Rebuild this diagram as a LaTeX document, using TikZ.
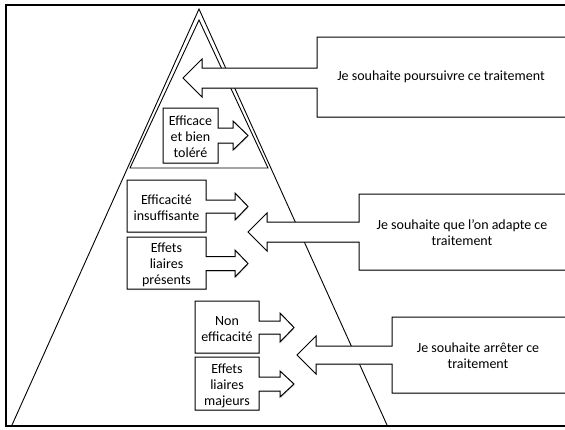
\documentclass[tikz,border=0pt]{standalone}
\usepackage{fontspec}
\setmainfont{Carlito}
\usetikzlibrary{shadows}
\begin{document}
\begin{tikzpicture}[x=1pt,y=-1pt,
  frameline/.style={line width=1.8pt},
  triline/.style={line width=0.9pt},
  callout/.style={draw=black, line width=1pt, fill=white, line join=miter,
    drop shadow={shadow xshift=0.6pt, shadow yshift=-1.2pt, opacity=0.3}},
  txt/.style={align=center, font=\fontsize{14}{16}\selectfont, inner sep=0pt}
]
\useasboundingbox (0,0) rectangle (565,429);
\clip (0,0) rectangle (565,429);

% outer frame (open on the right)
\draw[frameline] (575,5) -- (6,5) -- (6,426) -- (575,426);

% pyramid and its top section
\coordinate (apex) at (199,9);
\coordinate (bl) at (12,425);
\coordinate (br) at (387,425);
\draw[triline] (bl) -- (apex) -- (br);
\coordinate (iapex) at (199,20);
\coordinate (ibl) at (130,168);
\coordinate (ibr) at (268,168);
\draw[triline] (ibl) -- (iapex) -- (ibr) -- cycle;

% right-hand boxes with arrows pointing left
\draw[callout] (317,37) -- (575,37) -- (575,117) -- (317,117) -- (317,88) -- (202,88)
  -- (202,97) -- (183,78) -- (202,59) -- (202,68) -- (317,68) -- cycle;
\draw[callout] (359,194) -- (575,194) -- (575,270) -- (359,270) -- (359,242) -- (267,242)
  -- (267,251) -- (248,232) -- (267,213) -- (267,222) -- (359,222) -- cycle;
\draw[callout] (392,317) -- (575,317) -- (575,393) -- (392,393) -- (392,364) -- (316,364)
  -- (316,374) -- (297,355) -- (316,336) -- (316,346) -- (392,346) -- cycle;

% left-hand boxes with arrows pointing right
\draw[callout] (163,108) -- (218,108) -- (218,128) -- (233,128) -- (233,121) -- (248,135.5)
  -- (233,150) -- (233,143) -- (218,143) -- (218,163) -- (163,163) -- cycle;
\draw[callout] (127,180) -- (206,180) -- (206,200) -- (235,200) -- (235,193) -- (248,206.5)
  -- (235,220) -- (235,213) -- (206,213) -- (206,232) -- (127,232) -- cycle;
\draw[callout] (127,237) -- (206,237) -- (206,256.5) -- (235,256.5) -- (235,250) -- (248,263.5)
  -- (235,277) -- (235,270.5) -- (206,270.5) -- (206,289) -- (127,289) -- cycle;
\draw[callout] (195,301) -- (259,301) -- (259,321) -- (280,321) -- (280,313) -- (294,327.5)
  -- (280,342) -- (280,334) -- (259,334) -- (259,353) -- (195,353) -- cycle;
\draw[callout] (195,357) -- (259,357) -- (259,377) -- (280,377) -- (280,371) -- (294,384)
  -- (280,397) -- (280,391) -- (259,391) -- (259,410) -- (195,410) -- cycle;

% labels
\node[txt] (poursuivre) at (441,77) {Je souhaite poursuivre ce traitement};
\node[txt] (adapter) at (462,233) {Je souhaite que l’on adapte ce\\traitement};
\node[txt] (arreter) at (478,356) {Je souhaite arrêter ce\\traitement};
\node[txt] (efficace) at (190.5,137) {Efficace\\et bien\\toléré};
\node[txt] (insuff) at (166.5,208) {Efficacité\\insuffisante};
\node[txt] (presents) at (166.5,265) {Effets\\liaires\\présents};
\node[txt] (nonefficace) at (227,329) {Non\\efficacité};
\node[txt] (majeurs) at (227,386) {Effets\\liaires\\majeurs};
\end{tikzpicture}
\end{document}
